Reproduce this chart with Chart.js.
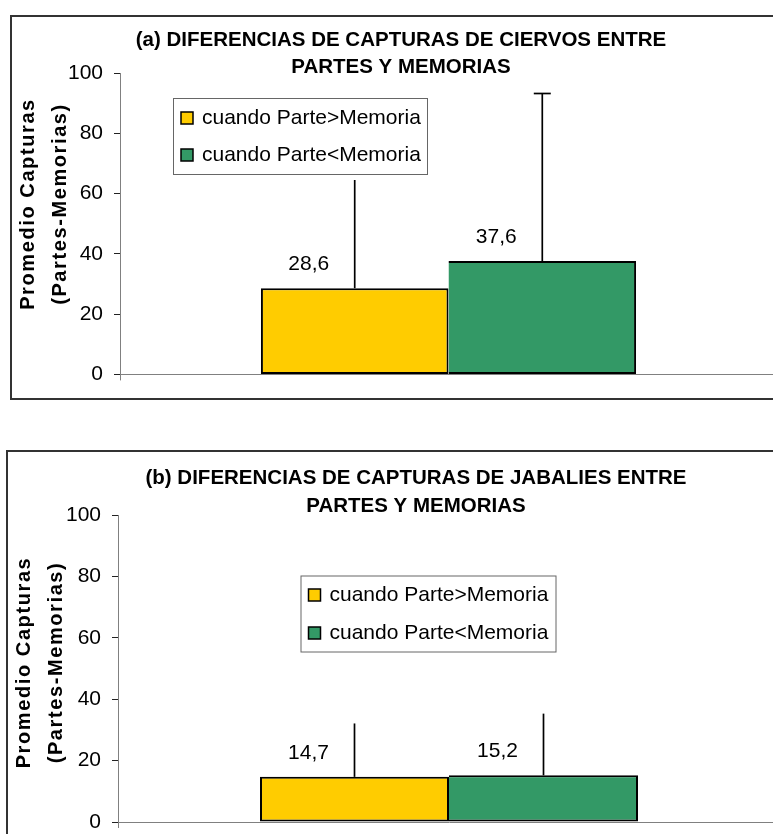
<!DOCTYPE html>
<html><head><meta charset="utf-8">
<script src="https://cdn.jsdelivr.net/npm/chart.js@4"></script>
<style>
html,body{margin:0;padding:0;background:#fff;overflow:hidden;width:773px;height:834px;}
.box{position:absolute;border:2px solid #333;background:#fff;box-sizing:border-box;}
canvas{display:block;}
</style></head><body>
<div class="box" style="left:10px;top:15px;width:780px;height:385px;"><canvas id="cA" width="776" height="381"></canvas></div>
<div class="box" style="left:6px;top:450px;width:820px;height:420px;"><canvas id="cB" width="816" height="416"></canvas></div>
<script>
// ---- data ----
const categories = ['Capturas'];
const seriesLabels = ['cuando Parte>Memoria', 'cuando Parte<Memoria'];
const seriesColors = ['#FFCC00', '#339966'];
const yTicks = [0, 20, 40, 60, 80, 100];
const yTitleLines = ['Promedio Capturas', '(Partes-Memorias)'];

const titleCiervos = ['(a) DIFERENCIAS DE CAPTURAS DE CIERVOS ENTRE', 'PARTES Y MEMORIAS'];
const ciervosParteMayor = [28.6];
const ciervosParteMenor = [37.6];
const ciervosErrorMayor = [35.9];
const ciervosErrorMenor = [55.6];

const titleJabalies = ['(b) DIFERENCIAS DE CAPTURAS DE JABALIES ENTRE', 'PARTES Y MEMORIAS'];
const jabaliesParteMayor = [14.7];
const jabaliesParteMenor = [15.2];
const jabaliesErrorMayor = [17.4];
const jabaliesErrorMenor = [20.1];

const FONT = '"Liberation Sans", Arial, sans-serif';
const fmt = v => v.toFixed(1).replace('.', ',');

const decor = {
  id: 'decor',
  afterDatasetsDraw(chart, args, o) {
    const ctx = chart.ctx, ys = chart.scales.y;
    ctx.save();
    chart.data.datasets.forEach((ds, i) => {
      const meta = chart.getDatasetMeta(i);
      meta.data.forEach((bar, j) => {
        const v = ds.data[j], e = ds.errors[j];
        const yTop = ys.getPixelForValue(v + e);
        ctx.strokeStyle = '#000'; ctx.lineWidth = 1.7;
        ctx.beginPath(); ctx.moveTo(bar.x, bar.y); ctx.lineTo(bar.x, yTop); ctx.stroke();
        const cap = o.caps[i];
        if (cap) {
          ctx.beginPath(); ctx.moveTo(bar.x - cap / 2, yTop); ctx.lineTo(bar.x + cap / 2, yTop); ctx.stroke();
        }
        ctx.fillStyle = '#000';
        ctx.font = '21px ' + FONT;
        ctx.textAlign = 'center'; ctx.textBaseline = 'middle';
        ctx.fillText(fmt(v), bar.x + o.labelDx, bar.y + o.labelDy);
      });
    });
    ctx.restore();
  },
  afterDraw(chart, args, o) {
    const ctx = chart.ctx, area = chart.chartArea;
    ctx.save();
    // axis stub below zero
    ctx.strokeStyle = '#808080'; ctx.lineWidth = 1;
    ctx.beginPath(); ctx.moveTo(area.left + 0.5, area.bottom); ctx.lineTo(area.left + 0.5, area.bottom + 6); ctx.stroke();
    // title
    ctx.fillStyle = '#000';
    ctx.font = 'bold 20.5px ' + FONT;
    ctx.textAlign = 'center'; ctx.textBaseline = 'middle';
    o.title.forEach((t, k) => ctx.fillText(t, o.titleX, o.titleY[k]));
    // y title
    ctx.save();
    ctx.translate(0, o.yTitleY);
    ctx.rotate(-Math.PI / 2);
    ctx.font = 'bold 20px ' + FONT;
    ctx.letterSpacing = '1.6px';
    yTitleLines.forEach((t, k) => ctx.fillText(t, 0, o.yTitleX[k]));
    ctx.restore();
    // legend
    const L = o.legend;
    ctx.fillStyle = '#fff'; ctx.fillRect(L.x, L.y, L.w, L.h);
    ctx.strokeStyle = '#666'; ctx.lineWidth = 1; ctx.strokeRect(L.x + 0.5, L.y + 0.5, L.w, L.h);
    chart.data.datasets.forEach((ds, i) => {
      const cy = L.y + L.rows[i];
      ctx.fillStyle = ds.backgroundColor; ctx.fillRect(L.x + 8, cy - 6, 12, 12);
      ctx.strokeStyle = '#000'; ctx.lineWidth = 1.5; ctx.strokeRect(L.x + 8, cy - 6, 12, 12);
      ctx.fillStyle = '#000'; ctx.font = '21px ' + FONT;
      ctx.textAlign = 'left'; ctx.textBaseline = 'middle';
      ctx.fillText(ds.label, L.x + 29, cy);
    });
    ctx.restore();
  }
};

function makeChart(id, mayor, menor, errMayor, errMenor, title, lay) {
  return new Chart(document.getElementById(id), {
    type: 'bar',
    data: {
      labels: categories,
      datasets: [
        { label: seriesLabels[0], data: mayor, errors: errMayor, backgroundColor: seriesColors[0],
          borderColor: '#000', borderWidth: {top: 2, right: 2, bottom: 2, left: 2}, borderSkipped: false,
          barPercentage: 1, categoryPercentage: 0.571 },
        { label: seriesLabels[1], data: menor, errors: errMenor, backgroundColor: seriesColors[1],
          borderColor: '#000', borderWidth: {top: 2, right: 2, bottom: 2, left: 0}, borderSkipped: false,
          barPercentage: 1, categoryPercentage: 0.571 }
      ]
    },
    options: {
      responsive: false, animation: false, events: [],
      layout: { padding: lay.padding },
      plugins: {
        legend: { display: false }, title: { display: false }, tooltip: { enabled: false },
        decor: { title: title, titleX: lay.titleX, titleY: lay.titleY, yTitleX: lay.yTitleX, yTitleY: lay.yTitleY,
                 legend: lay.legend, caps: lay.caps, labelDx: -46, labelDy: -24 }
      },
      scales: {
        x: {
          ticks: { display: false },
          grid: { display: false },
          border: { display: true, color: '#808080', width: 1 },
          afterFit: s => { s.height = 0; }
        },
        y: {
          min: 0, max: 100,
          afterBuildTicks: s => { s.ticks = yTicks.map(v => ({ value: v })); },
          ticks: { color: '#000', font: { family: FONT, size: 21 }, padding: 11 },
          grid: { display: true, drawOnChartArea: false, drawTicks: true, tickLength: 6, tickColor: '#222' },
          border: { display: true, color: '#808080', width: 1 },
          afterFit: s => { s.width = lay.yWidth; }
        }
      }
    },
    plugins: [decor]
  });
}

makeChart('cA', ciervosParteMayor, ciervosParteMenor, ciervosErrorMayor, ciervosErrorMenor, titleCiervos, {
  padding: { left: 0, top: 56, right: 11, bottom: 18 }, yWidth: 108,
  titleX: 389, titleY: [23.5, 50.5], yTitleX: [16.5, 48], yTitleY: 187,
  legend: { x: 161, y: 81, w: 254, h: 76, rows: [20, 57] }, caps: [0, 17]
});
makeChart('cB', jabaliesParteMayor, jabaliesParteMenor, jabaliesErrorMayor, jabaliesErrorMenor, titleJabalies, {
  padding: { left: 0, top: 63, right: 44, bottom: 46 }, yWidth: 110,
  titleX: 408, titleY: [26, 54.5], yTitleX: [16.5, 48], yTitleY: 210.5,
  legend: { x: 292.5, y: 123.5, w: 255, h: 76, rows: [19.5, 57.5] }, caps: [0, 0]
});
</script>
</body></html>
